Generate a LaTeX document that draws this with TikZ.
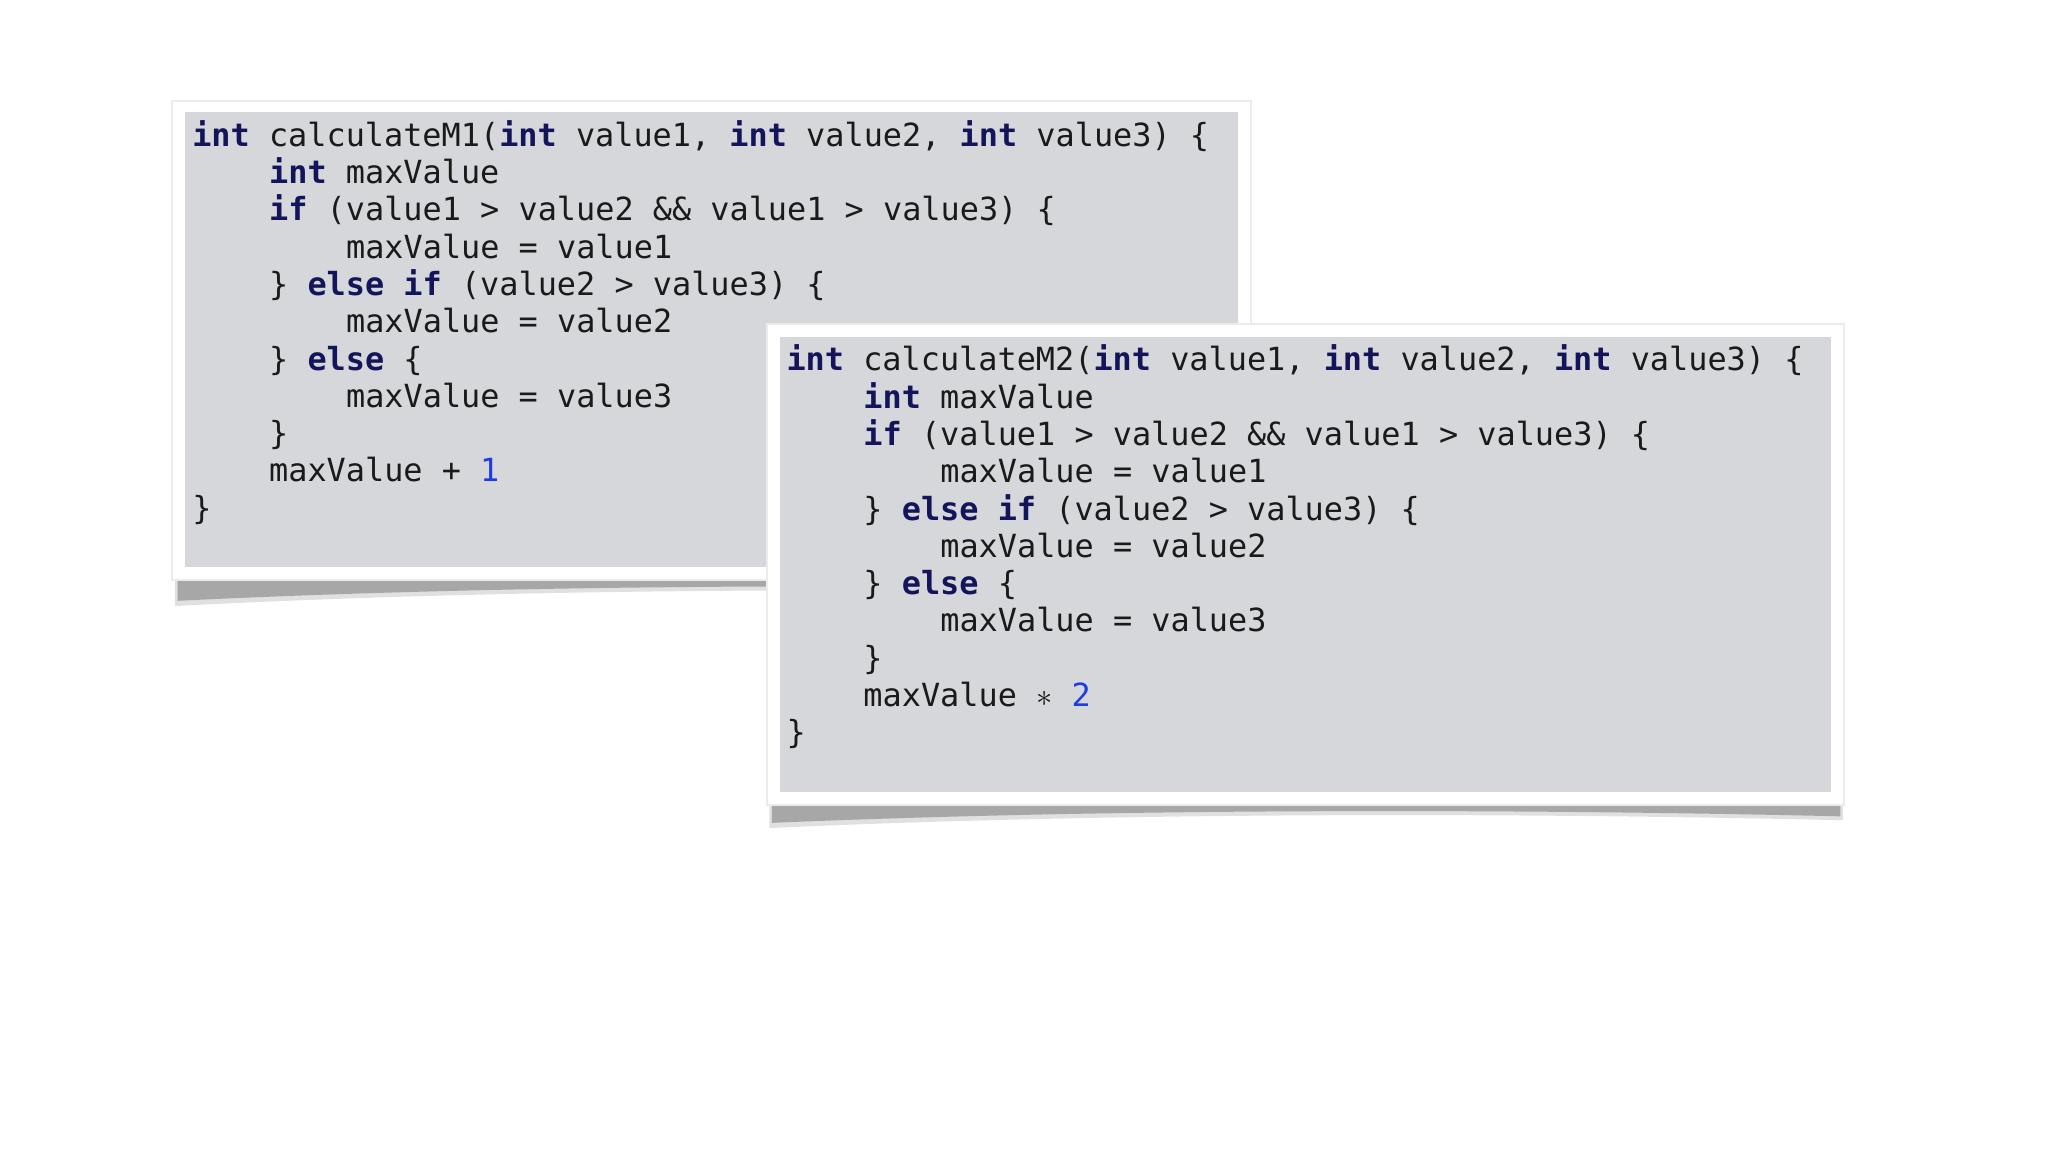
\documentclass[tikz,border=0pt]{standalone}
\usepackage{fontspec}
\setmonofont{DejaVu Sans Mono}
\definecolor{kw}{HTML}{14145A}
\definecolor{num}{HTML}{1E3CE6}
\definecolor{panel}{HTML}{D6D7DA}
\definecolor{txt}{HTML}{1A1A1A}
\newcommand{\kw}[1]{\textbf{\color{kw}#1}}
\newcommand{\nm}[1]{{\color{num}#1}}
\tikzset{codeline/.style={anchor=base west,inner sep=0pt,font=\ttfamily\fontsize{24.4}{28}\selectfont,text=txt},
frame/.style={fill=white,draw=black!8,line width=1.5pt},
inner/.style={fill=panel},
shadowshape/.style={fill=black,opacity=0.25}}
\begin{document}
\begin{tikzpicture}[x=1pt,y=-1pt]
\useasboundingbox[fill=white] (0,0) rectangle (1568,882);
% panel 1
\fill[shadowshape] (136,444) -- (955,444) -- (955,452) .. controls (700,447) and (400,447) .. (136,460) -- cycle;
\fill[black,opacity=0.12] (134,444) -- (957,444) -- (957,455) .. controls (700,450) and (400,450) .. (134,464) -- cycle;
\path[frame] (132,77) rectangle (958,444);
\path[inner] (142,86) rectangle (948,434);
\def\sx{147}\def\cw{14.72}
\foreach \i/\ind/\t in {0/0/{\kw{int} calculateM1(\kw{int} value1, \kw{int} value2, \kw{int} value3) \{},
1/4/{\kw{int} maxValue},
2/4/{\kw{if} (value1 > value2 \&\& value1 > value3) \{},
3/8/{maxValue = value1},
4/4/{\} \kw{else} \kw{if} (value2 > value3) \{},
5/8/{maxValue = value2},
6/4/{\} \kw{else} \{},
7/8/{maxValue = value3},
8/4/{\}},
9/4/{maxValue + \nm{1}},
10/0/{\}}}
  \node[codeline] (a\i) at (\sx+\ind*\cw,112+\i*28.55) {\t};
% panel 2
\fill[shadowshape] (591,616) -- (1409,616) -- (1409,625) .. controls (1150,619) and (850,619) .. (591,630) -- cycle;
\fill[black,opacity=0.12] (589,616) -- (1411,616) -- (1411,628) .. controls (1150,622) and (850,622) .. (589,634) -- cycle;
\path[frame] (587,248) rectangle (1412,616);
\path[inner] (597,258) rectangle (1402,606);
\def\sx{602}
\foreach \i/\ind/\t in {0/0/{\kw{int} calculateM2(\kw{int} value1, \kw{int} value2, \kw{int} value3) \{},
1/4/{\kw{int} maxValue},
2/4/{\kw{if} (value1 > value2 \&\& value1 > value3) \{},
3/8/{maxValue = value1},
4/4/{\} \kw{else} \kw{if} (value2 > value3) \{},
5/8/{maxValue = value2},
6/4/{\} \kw{else} \{},
7/8/{maxValue = value3},
8/4/{\}},
9/4/{maxValue $\ast$ \nm{2}},
10/0/{\}}}
  \node[codeline] (b\i) at (\sx+\ind*\cw,284+\i*28.55) {\t};
\end{tikzpicture}
\end{document}
